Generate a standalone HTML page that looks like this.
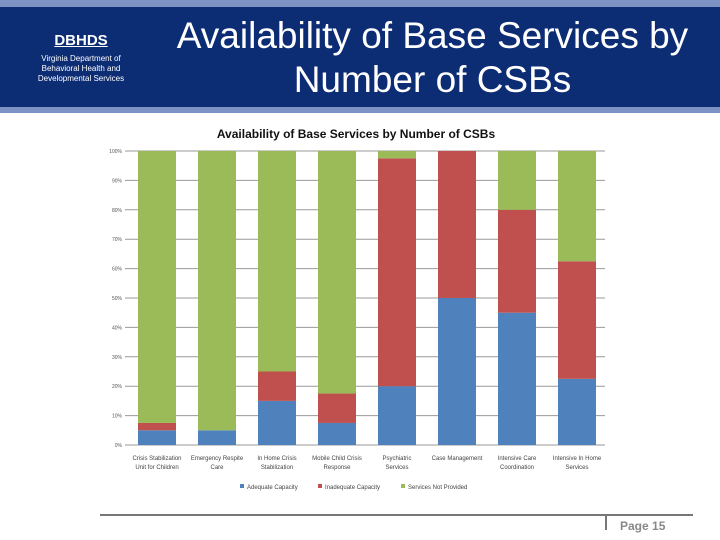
<!DOCTYPE html>
<html><head><meta charset="utf-8"><style>
body{margin:0;width:720px;height:540px;background:#fff;position:relative;overflow:hidden;font-family:"Liberation Sans",sans-serif}
.abs{position:absolute}
</style></head><body>
<div class="abs" style="left:0;top:0;width:720px;height:7px;background:#7c93c4"></div>
<div class="abs" style="left:0;top:7px;width:720px;height:100px;background:#0c2c74"></div>
<div class="abs" style="left:0;top:107px;width:720px;height:6px;background:#7c93c4"></div>
<div class="abs" style="left:0;top:32px;width:162px;text-align:center;color:#fff;font-weight:bold;font-size:15px;text-decoration:underline">DBHDS</div>
<div class="abs" style="left:0;top:54px;width:162px;text-align:center;color:#fff;font-size:8px;line-height:10px">Virginia Department of<br>Behavioral Health and<br>Developmental Services</div>
<div class="abs" style="left:160px;top:14px;width:545px;text-align:center;color:#fff;font-size:37px;line-height:44px">Availability of Base Services by<br>Number of CSBs</div>
<svg class="abs" style="left:0;top:0" width="720" height="540" id="chart">
<text x="356" y="138" text-anchor="middle" font-size="12" font-weight="bold" fill="#111">Availability of Base Services by Number of CSBs</text>
<g id="grid"></g><g id="bars"></g><g id="xl"></g><g id="legend"></g>
</svg>
<div class="abs" style="left:100px;top:514px;width:593px;height:2px;background:#777"></div>
<div class="abs" style="left:605px;top:515px;width:2px;height:15px;background:#777"></div>
<div class="abs" style="left:620px;top:519px;font-size:12px;font-weight:bold;color:#888">Page 15</div>
<script>
const categories=[["Crisis Stabilization","Unit for Children"],["Emergency Respite","Care"],["In Home Crisis","Stabilization"],["Mobile Child Crisis","Response"],["Psychiatric","Services"],["Case Management",""],["Intensive Care","Coordination"],["Intensive In Home","Services"]];
const adequate=[5,5,15,7.5,20,50,45,22.5];
const inadequate=[2.5,0,10,10,77.5,50,35,40];
const notProvided=[92.5,95,75,82.5,2.5,0,20,37.5];
const ticks=[0,10,20,30,40,50,60,70,80,90,100];
const seriesNames=["Adequate Capacity","Inadequate Capacity","Services Not Provided"];
const colors=["#4f81bd","#c0504d","#9bbb59"];
const NS="http://www.w3.org/2000/svg";
const L=125,R=605,T=151,B=445;
const y=v=>B-(B-T)*v/100;
const step=60;
const xc=i=>127+step*(i+0.5);
function mk(t,a,p){const e=document.createElementNS(NS,t);for(const k in a)e.setAttribute(k,a[k]);p.appendChild(e);return e;}
const g=document.getElementById('grid');
ticks.forEach(t=>{
 const ln=mk('line',{x1:L,x2:R,y1:y(t),y2:y(t),stroke:'#999','stroke-width':1},g);
 
 
 const tx=mk('text',{x:L-3,y:y(t)+2,'text-anchor':'end','font-size':5,fill:'#555'},g);
 tx.textContent=t+'%';
 
 
});
const bg=document.getElementById('bars');
const series=[adequate,inadequate,notProvided];
categories.forEach((c,i)=>{
 let acc=0;
 series.forEach((s,k)=>{
  const v=s[i]; if(v<=0)return;
  const r=mk('rect',{x:xc(i)-19,width:38,y:y(acc+v),height:y(acc)-y(acc+v),fill:colors[k]},bg);
  
  
  acc+=v;
 });
});
const xl=document.getElementById('xl');
categories.forEach((c,i)=>{
 c.forEach((line,j)=>{
  const t=mk('text',{x:xc(i),y:460+j*9,'text-anchor':'middle','font-size':6,fill:'#444'},xl);
  t.textContent=line;
  
  
 });
});
const lg=document.getElementById('legend');
const lx=[240,318,401];
seriesNames.forEach((n,k)=>{
 const r=mk('rect',{x:lx[k],y:484,width:4,height:4,fill:colors[k]},lg);
 
 
 const t=mk('text',{x:lx[k]+7,y:489,'font-size':6,fill:'#444'},lg);
 t.textContent=n;
 
 
});
</script>
</body></html>
